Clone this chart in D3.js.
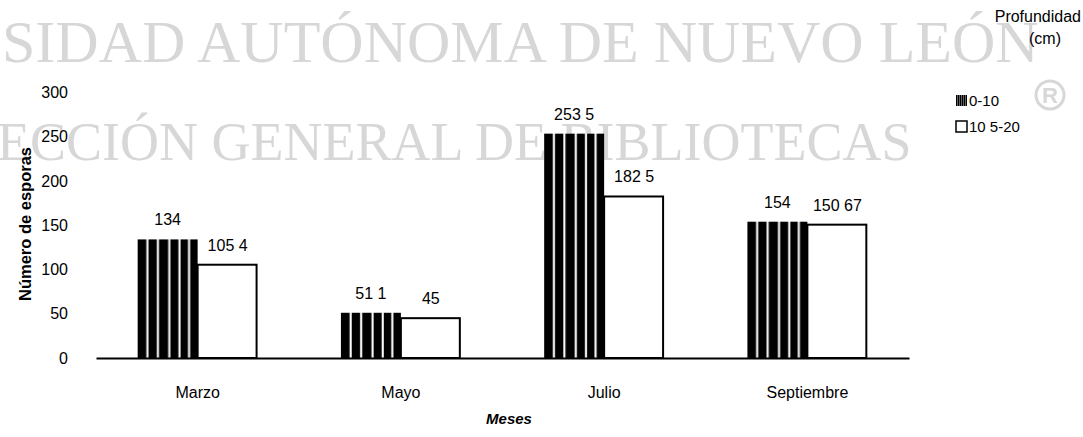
<!DOCTYPE html>
<html><head><meta charset="utf-8">
<script src="https://cdn.jsdelivr.net/npm/d3@7"></script>
<style>
html,body{margin:0;padding:0;background:#fff;}
svg{display:block;}
</style></head>
<body>
<svg id="chart" width="1083" height="437"></svg>
<script>
const months = ["Marzo", "Mayo", "Julio", "Septiembre"];
const seriesNames = ["0-10", "10 5-20"];
const values010 = [134, 51.1, 253.5, 154];
const values1020 = [105.4, 45, 182.5, 150.67];
const labels010 = ["134", "51 1", "253 5", "154"];
const labels1020 = ["105 4", "45", "182 5", "150 67"];
const yTicks = [0, 50, 100, 150, 200, 250, 300];
const watermark = ["SIDAD AUTÓNOMA DE NUEVO LEÓN", "ECCIÓN GENERAL DE BIBLIOTECAS"];

const svg = d3.select("#chart");
const font = "'Liberation Sans', Arial, sans-serif";
const serif = "'Liberation Serif', 'Times New Roman', serif";
const wmColor = "#d7d7d7";

// watermark behind chart
svg.append("text").attr("x", 2).attr("y", 62)
  .attr("font-family", serif).attr("font-size", 60).attr("fill", wmColor).text(watermark[0]);
svg.append("text").attr("x", -3).attr("y", 160)
  .attr("font-family", serif).attr("font-size", 54).attr("fill", wmColor).text(watermark[1]);
svg.append("circle").attr("cx", 1050).attr("cy", 95).attr("r", 14)
  .attr("fill", "none").attr("stroke", wmColor).attr("stroke-width", 3);
svg.append("text").attr("x", 1050).attr("y", 103).attr("text-anchor", "middle")
  .attr("font-family", font).attr("font-weight", "bold").attr("font-size", 22)
  .attr("fill", wmColor).text("R");

// pattern for dark bars
const defs = svg.append("defs");
const pat = defs.append("pattern").attr("id", "stripes")
  .attr("patternUnits", "objectBoundingBox").attr("patternContentUnits", "objectBoundingBox")
  .attr("width", 1).attr("height", 1);
pat.append("rect").attr("width", 1).attr("height", 1).attr("fill", "#000");
[0.145, 0.32, 0.51, 0.68, 0.84].forEach(f => {
  pat.append("rect").attr("x", f).attr("y", 0).attr("width", 0.035).attr("height", 1).attr("fill", "#fff");
});

const x0 = d3.scaleBand().domain(months).range([96, 909]).paddingInner(0.41).paddingOuter(0.205);
const x1 = d3.scaleBand().domain(seriesNames).range([0, x0.bandwidth()]);
const y = d3.scaleLinear().domain([0, 300]).range([358, 92.5]);

// y axis
const yAxis = svg.append("g").attr("transform", "translate(72,0)")
  .call(d3.axisLeft(y).tickValues(yTicks).tickSize(0).tickPadding(4));
yAxis.select(".domain").remove();
yAxis.selectAll("text").attr("font-family", font).attr("font-size", 16).attr("fill", "#000");

// bars
const data = months.map((m, i) => ({m, v: [values010[i], values1020[i]], l: [labels010[i], labels1020[i]]}));
const g = svg.append("g");
data.forEach(d => {
  seriesNames.forEach((s, j) => {
    const bx = x0(d.m) + x1(s);
    const by = y(d.v[j]);
    const bw = x1.bandwidth();
    if (j === 0) {
      g.append("rect").attr("x", bx).attr("y", by).attr("width", bw).attr("height", y(0) - by)
        .attr("fill", "url(#stripes)");
    } else {
      g.append("rect").attr("x", bx).attr("y", by).attr("width", bw - 1).attr("height", y(0) - by)
        .attr("fill", "#fff").attr("stroke", "#000").attr("stroke-width", 2);
    }
    g.append("text").attr("x", bx + bw / 2).attr("y", by - 14).attr("text-anchor", "middle")
      .attr("font-family", font).attr("font-size", 16).attr("fill", "#000").text(d.l[j]);
  });
});

// x axis
const xAxis = svg.append("g").attr("transform", "translate(0,358)")
  .call(d3.axisBottom(x0).tickSize(0));
xAxis.select(".domain").attr("stroke", "#000").attr("stroke-width", 2);
xAxis.selectAll("text").attr("font-family", font).attr("font-size", 16).attr("fill", "#000")
  .attr("y", 40).attr("dy", 0);

// axis titles
svg.append("text").attr("x", 509).attr("y", 424).attr("text-anchor", "middle")
  .attr("font-family", font).attr("font-size", 15).attr("font-weight", "bold").attr("font-style", "italic")
  .text("Meses");
svg.append("text").attr("transform", "translate(31,224) rotate(-90)").attr("text-anchor", "middle")
  .attr("font-family", font).attr("font-size", 16.5).attr("font-weight", "bold")
  .text("Número de esporas");

// legend
svg.append("text").attr("x", 1081).attr("y", 22).attr("text-anchor", "end")
  .attr("font-family", font).attr("font-size", 16).text("Profundidad");
svg.append("text").attr("x", 1045).attr("y", 44).attr("text-anchor", "middle")
  .attr("font-family", font).attr("font-size", 16).text("(cm)");
seriesNames.forEach((s, j) => {
  const ly = 95 + j * 26;
  svg.append("rect").attr("x", 956).attr("y", ly).attr("width", 11).attr("height", 11)
    .attr("fill", j === 0 ? "url(#stripes)" : "#fff").attr("stroke", "#000").attr("stroke-width", j === 0 ? 0 : 1.5);
  svg.append("text").attr("x", 969).attr("y", ly + 11).attr("font-family", font).attr("font-size", 15).text(s);
});
</script>
</body></html>
